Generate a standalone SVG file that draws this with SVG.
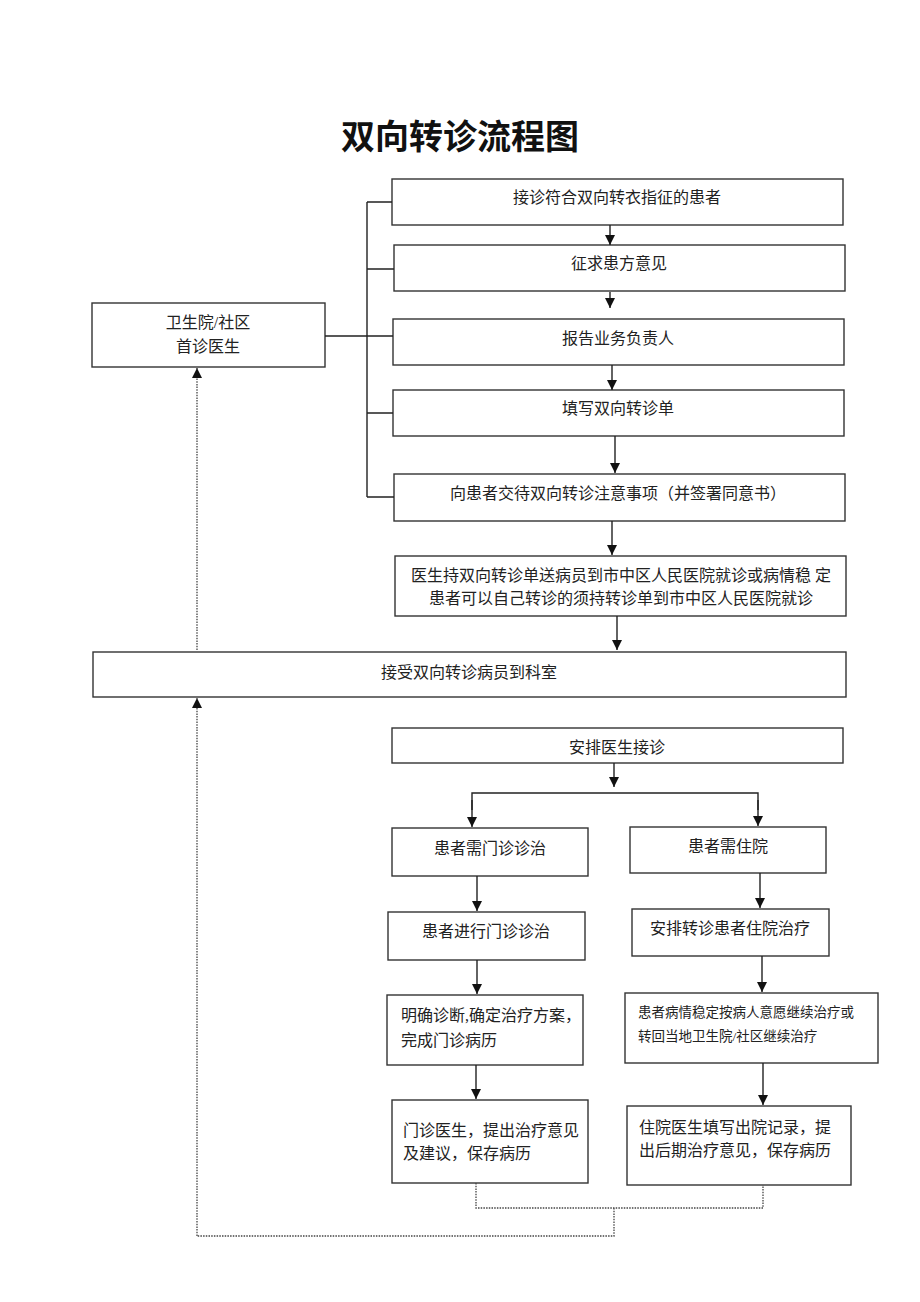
<svg xmlns="http://www.w3.org/2000/svg" width="920" height="1302" viewBox="0 0 920 1302">
<defs>
<style>
.box{fill:#fff;stroke:#333;stroke-width:1.4}
.t{font-family:"Liberation Serif","Noto Sans CJK SC",serif;font-size:16px;fill:#222;dominant-baseline:central}
.c{text-anchor:middle}
.s{font-size:13.5px}
.ln{stroke:#222;stroke-width:1.4;fill:none}
.dt{stroke:#444;stroke-width:1.3;fill:none;stroke-dasharray:1.5 1.2}
.title{font-family:"Noto Sans CJK SC",sans-serif;font-size:34px;font-weight:bold;fill:#111;text-anchor:middle}
</style>
<marker id="ah" viewBox="0 0 10 10" refX="10" refY="5" markerUnits="userSpaceOnUse" markerWidth="10" markerHeight="10" orient="auto">
<path d="M0,0 L10,5 L0,10 z" fill="#111"/>
</marker>
</defs>
<rect width="920" height="1302" fill="#fff"/>
<text class="title" x="460" y="149">双向转诊流程图</text>

<g id="n_first"><rect class="box" x="92" y="303" width="233" height="64"/><text class="t c" x="208" y="322">卫生院/社区</text><text class="t c" x="208" y="346">首诊医生</text></g>
<g id="n1"><rect class="box" x="392" y="179" width="451" height="46"/><text class="t c" x="617" y="197">接诊符合双向转衣指征的患者</text></g>
<g id="n2"><rect class="box" x="394" y="245" width="451" height="46"/><text class="t c" x="619" y="263">征求患方意见</text></g>
<g id="n3"><rect class="box" x="393" y="319" width="451" height="46"/><text class="t c" x="618" y="338">报告业务负责人</text></g>
<g id="n4"><rect class="box" x="393" y="390" width="451" height="46"/><text class="t c" x="618" y="408">填写双向转诊单</text></g>
<g id="n5"><rect class="box" x="394" y="474" width="451" height="47"/><text class="t c" x="618" y="493">向患者交待双向转诊注意事项（并签署同意书）</text></g>
<g id="n6"><rect class="box" x="395" y="556" width="451" height="60"/><text class="t c" x="621" y="575">医生持双向转诊单送病员到市中区人民医院就诊或病情稳 定</text><text class="t c" x="621" y="598">患者可以自己转诊的须持转诊单到市中区人民医院就诊</text></g>
<g id="n7"><rect class="box" x="93" y="652" width="753" height="45"/><text class="t c" x="469" y="672">接受双向转诊病员到科室</text></g>
<g id="n8"><rect class="box" x="392" y="728" width="451" height="35"/><text class="t c" x="617" y="747">安排医生接诊</text></g>
<g id="n9"><rect class="box" x="392" y="828" width="196" height="48"/><text class="t c" x="490" y="848">患者需门诊诊治</text></g>
<g id="n10"><rect class="box" x="630" y="827" width="196" height="46"/><text class="t c" x="728" y="846">患者需住院</text></g>
<g id="n11"><rect class="box" x="388" y="912" width="197" height="48"/><text class="t c" x="486" y="931">患者进行门诊诊治</text></g>
<g id="n12"><rect class="box" x="632" y="909" width="197" height="47"/><text class="t c" x="730" y="928">安排转诊患者住院治疗</text></g>
<g id="n13"><rect class="box" x="387" y="995" width="196" height="70"/><text class="t" x="401" y="1015">明确诊断,确定治疗方案，</text><text class="t" x="401" y="1040">完成门诊病历</text></g>
<g id="n14"><rect class="box" x="625" y="993" width="253" height="70"/><text class="t s" x="638" y="1012">患者病情稳定按病人意愿继续治疗或</text><text class="t s" x="638" y="1036">转回当地卫生院/社区继续治疗</text></g>
<g id="n15"><rect class="box" x="392" y="1100" width="196" height="83"/><text class="t" x="403" y="1130">门诊医生，提出治疗意见</text><text class="t" x="403" y="1153">及建议，保存病历</text></g>
<g id="n16"><rect class="box" x="627" y="1106" width="224" height="79"/><text class="t" x="639" y="1127">住院医生填写出院记录，提</text><text class="t" x="639" y="1150">出后期治疗意见，保存病历</text></g>

<g id="connectors">
<path class="ln" d="M367,202 V497 M367,202 H392 M367,269 H394 M325,336 H393 M367,413 H393 M367,497 H394"/>
<line class="ln" x1="610" y1="225" x2="610" y2="245" marker-end="url(#ah)"/>
<line class="ln" x1="610" y1="292" x2="610" y2="308" marker-end="url(#ah)"/>
<line class="ln" x1="612" y1="365" x2="612" y2="390" marker-end="url(#ah)"/>
<line class="ln" x1="615" y1="436" x2="615" y2="473" marker-end="url(#ah)"/>
<line class="ln" x1="612" y1="521" x2="612" y2="555" marker-end="url(#ah)"/>
<line class="ln" x1="617" y1="616" x2="617" y2="650" marker-end="url(#ah)"/>
<line class="ln" x1="614" y1="763" x2="614" y2="787" marker-end="url(#ah)"/>
<path class="ln" d="M472,810 V793 H758 V810" />
<line class="ln" x1="472" y1="800" x2="472" y2="827" marker-end="url(#ah)"/>
<line class="ln" x1="758" y1="800" x2="758" y2="826" marker-end="url(#ah)"/>
<line class="ln" x1="477" y1="876" x2="477" y2="911" marker-end="url(#ah)"/>
<line class="ln" x1="760" y1="873" x2="760" y2="908" marker-end="url(#ah)"/>
<line class="ln" x1="477" y1="960" x2="477" y2="994" marker-end="url(#ah)"/>
<line class="ln" x1="762" y1="956" x2="762" y2="992" marker-end="url(#ah)"/>
<line class="ln" x1="476" y1="1065" x2="476" y2="1099" marker-end="url(#ah)"/>
<line class="ln" x1="763" y1="1063" x2="763" y2="1105" marker-end="url(#ah)"/>
<path class="dt" d="M476,1183 V1208 H763 V1185 M614,1208 V1236 H197"/>
<line class="dt" x1="197" y1="1236" x2="197" y2="698" marker-end="url(#ah)"/>
<line class="dt" x1="197" y1="650" x2="197" y2="368" marker-end="url(#ah)"/>
</g>
</svg>
